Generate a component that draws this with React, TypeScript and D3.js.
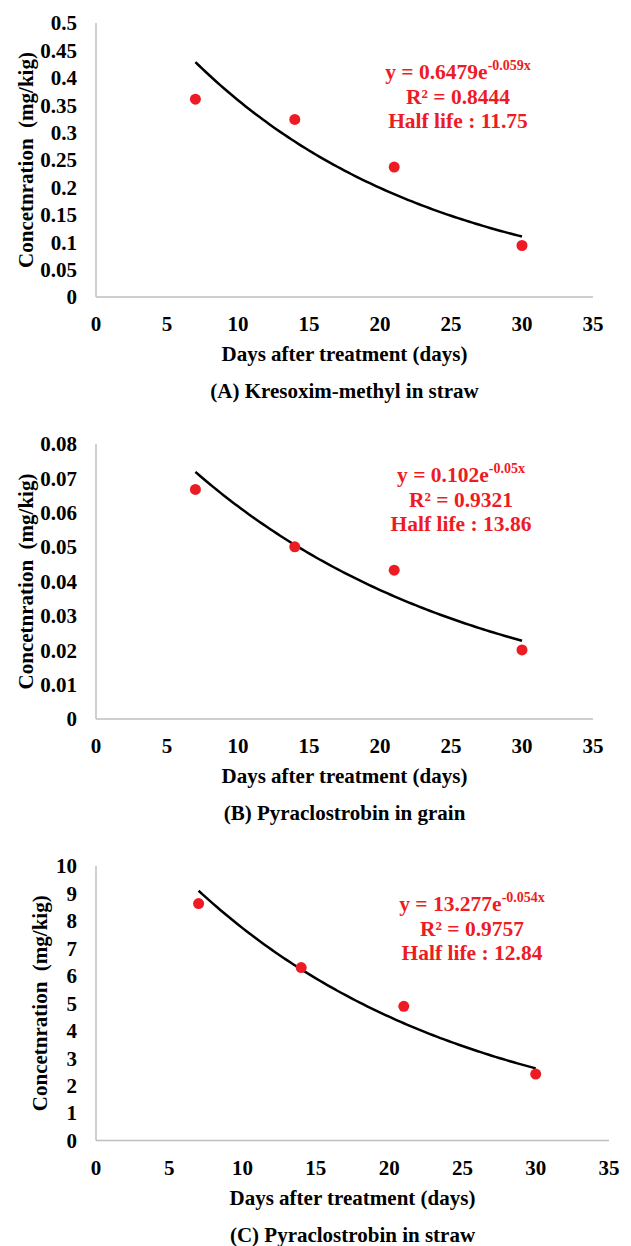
import { useRef, useEffect } from "react";
import * as d3 from "d3";

// sampling days
const days = [7, 14, 21, 30];

// residues (mg/kg)
const kresoximStraw = [0.361, 0.324, 0.237, 0.094];
const pyraGrain = [0.0668, 0.0501, 0.0433, 0.0201];
const pyraStraw = [8.63, 6.3, 4.89, 2.42];

// exponential fit y = a * e^(b x) as printed on each panel
const fitA = [0.6479, 0.102, 13.277];
const fitB = [-0.059, -0.05, -0.054];

const eqCoef = ["0.6479", "0.102", "13.277"];
const eqExp = ["-0.059x", "-0.05x", "-0.054x"];
const rSquared = ["0.8444", "0.9321", "0.9757"];
const halfLife = ["11.75", "13.86", "12.84"];
const captions = [
  "(A) Kresoxim-methyl in straw",
  "(B) Pyraclostrobin in grain",
  "(C) Pyraclostrobin in straw",
];

const xTicks = [0, 5, 10, 15, 20, 25, 30, 35];
const yTicksA = ["0", "0.05", "0.1", "0.15", "0.2", "0.25", "0.3", "0.35", "0.4", "0.45", "0.5"];
const yTicksB = ["0", "0.01", "0.02", "0.03", "0.04", "0.05", "0.06", "0.07", "0.08"];
const yTicksC = ["0", "1", "2", "3", "4", "5", "6", "7", "8", "9", "10"];

const FONT = "'Liberation Serif', 'Times New Roman', serif";
const RED = "#ed1c24";

// layout of each panel on the page
const panels = [
  { values: kresoximStraw, ticks: yTicksA, top: 23, bottom: 297, right: 593, annX: 458, annY: 79, titleX: 33 },
  { values: pyraGrain, ticks: yTicksB, top: 444, bottom: 719, right: 593, annX: 461, annY: 482, titleX: 33 },
  { values: pyraStraw, ticks: yTicksC, top: 866, bottom: 1140.5, right: 609, annX: 472, annY: 911, titleX: 47 },
];

const App = () => {
  const svgRef = useRef(null);

  useEffect(() => {
    const svg = d3.select(svgRef.current);
    svg.selectAll("*").remove();

    const left = 96;

    panels.forEach((p, i) => {
      const g = svg.append("g").attr("font-family", FONT).attr("font-weight", "bold");
      const yVals = p.ticks.map(Number);

      const x = d3.scaleLinear().domain([0, 35]).range([left, p.right]);
      const y = d3.scaleLinear().domain([0, d3.max(yVals)]).range([p.bottom, p.top]);

      // axis lines
      g.append("line")
        .attr("x1", left).attr("x2", left)
        .attr("y1", p.top).attr("y2", p.bottom)
        .attr("stroke", "#bfbfbf").attr("stroke-width", 1.5);
      g.append("line")
        .attr("x1", left).attr("x2", p.right)
        .attr("y1", p.bottom).attr("y2", p.bottom)
        .attr("stroke", "#bfbfbf").attr("stroke-width", 1.5);

      // tick labels
      g.selectAll(".yt")
        .data(p.ticks)
        .join("text")
        .attr("x", 77)
        .attr("y", (d) => y(+d))
        .attr("dy", "0.35em")
        .attr("text-anchor", "end")
        .attr("font-size", 21)
        .text((d) => d);

      g.selectAll(".xt")
        .data(xTicks)
        .join("text")
        .attr("x", (d) => x(d))
        .attr("y", p.bottom + 34)
        .attr("text-anchor", "middle")
        .attr("font-size", 21)
        .text((d) => d);

      // axis titles
      g.append("text")
        .attr("transform", `translate(${p.titleX}, ${(p.top + p.bottom) / 2}) rotate(-90)`)
        .attr("text-anchor", "middle")
        .attr("font-size", 21)
        .attr("xml:space", "preserve")
        .text("Concetnration  (mg/kig)");

      g.append("text")
        .attr("x", (left + p.right) / 2)
        .attr("y", p.bottom + 64)
        .attr("text-anchor", "middle")
        .attr("font-size", 21)
        .text("Days after treatment (days)");

      g.append("text")
        .attr("x", (left + p.right) / 2)
        .attr("y", p.bottom + 101)
        .attr("text-anchor", "middle")
        .attr("font-size", 21)
        .text(captions[i]);

      // fitted exponential trend
      const trend = d3.range(7, 30.001, 0.25).map((d) => [d, fitA[i] * Math.exp(fitB[i] * d)]);
      g.append("path")
        .datum(trend)
        .attr("fill", "none")
        .attr("stroke", "#000")
        .attr("stroke-width", 2.5)
        .attr("d", d3.line().x((d) => x(d[0])).y((d) => y(d[1])));

      // observed points
      g.selectAll(".pt")
        .data(days)
        .join("circle")
        .attr("cx", (d) => x(d))
        .attr("cy", (d, j) => y(p.values[j]))
        .attr("r", 5.5)
        .attr("fill", RED);

      // equation block
      const ann = g.append("g").attr("fill", RED).attr("text-anchor", "middle").attr("font-size", 21.5);
      const eq = ann.append("text").attr("x", p.annX).attr("y", p.annY);
      eq.append("tspan").text(`y = ${eqCoef[i]}e`);
      eq.append("tspan").attr("dy", -9.5).attr("font-size", 14).text(eqExp[i]);
      ann.append("text").attr("x", p.annX).attr("y", p.annY + 24.5).text(`R² = ${rSquared[i]}`);
      ann.append("text").attr("x", p.annX).attr("y", p.annY + 49).text(`Half life : ${halfLife[i]}`);
    });
  }, []);

  return (
    <svg
      ref={svgRef}
      width={631}
      height={1246}
      style={{ position: "absolute", left: 0, top: 0, background: "#fff" }}
    ></svg>
  );
};

export default App;
